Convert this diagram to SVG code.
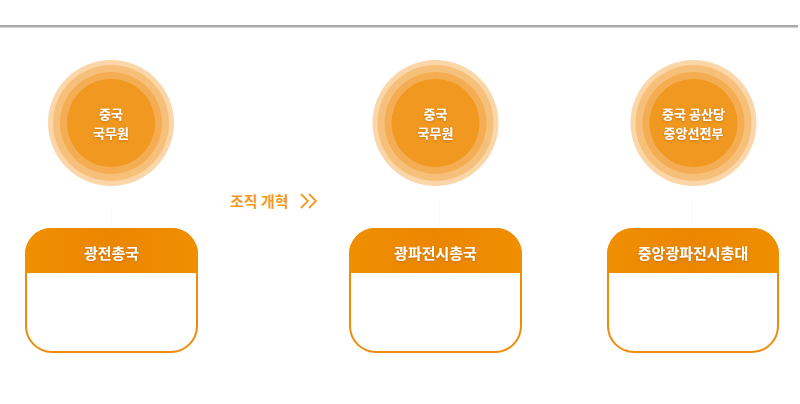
<svg xmlns="http://www.w3.org/2000/svg" width="800" height="404" viewBox="0 0 800 404">
<defs>
<style>
.r1{fill:#fad6a8}.r2{fill:#f7c07a}.r3{fill:#f4ad52}.r4{fill:#f0981f}
.ct{font-family:"Noto Sans CJK KR","Noto Sans",sans-serif;font-size:13px;font-weight:bold;fill:#fff;text-anchor:middle}
.ht{font-family:"Noto Sans CJK KR","Noto Sans",sans-serif;font-size:15px;font-weight:bold;fill:#fff;text-anchor:middle}
.box{fill:#fff;stroke:#ef8b0c;stroke-width:2}
.hdr{fill:url(#hg)}
.conn{stroke:#f6f6f6;stroke-width:1}
</style>
<linearGradient id="hg" x1="0" y1="0" x2="1" y2="0">
<stop offset="0" stop-color="#f08f00"/><stop offset="0.5" stop-color="#ea8600"/><stop offset="1" stop-color="#f08f00"/>
</linearGradient>
<filter id="ts" x="-20%" y="-40%" width="140%" height="180%">
<feDropShadow dx="0" dy="1" stdDeviation="1" flood-color="#b35e00" flood-opacity="0.6"/>
</filter>
</defs>
<rect width="800" height="404" fill="#fff"/>
<rect x="0" y="25" width="798" height="2.5" fill="#aaaaaa"/>
<g id="connectors">
<line class="conn" x1="111" y1="208" x2="111" y2="229"/>
<line class="conn" x1="439" y1="200" x2="439" y2="229"/>
<line class="conn" x1="692" y1="200" x2="692" y2="229"/>
</g>
<g id="c1">
<circle class="r1" cx="111" cy="123" r="63"/><circle class="r2" cx="111" cy="123" r="58"/><circle class="r3" cx="111" cy="123" r="51"/><circle class="r4" cx="111" cy="123" r="44"/>
<text class="ct" filter="url(#ts)" x="111" y="118.5">중국</text>
<text class="ct" filter="url(#ts)" x="111" y="137.5">국무원</text>
</g>
<g id="c2">
<circle class="r1" cx="435.5" cy="123" r="63"/><circle class="r2" cx="435.5" cy="123" r="58"/><circle class="r3" cx="435.5" cy="123" r="51"/><circle class="r4" cx="435.5" cy="123" r="44"/>
<text class="ct" filter="url(#ts)" x="435.5" y="118.5">중국</text>
<text class="ct" filter="url(#ts)" x="435.5" y="137.5">국무원</text>
</g>
<g id="c3">
<circle class="r1" cx="693.5" cy="123" r="63"/><circle class="r2" cx="693.5" cy="123" r="58"/><circle class="r3" cx="693.5" cy="123" r="51"/><circle class="r4" cx="693.5" cy="123" r="44"/>
<text class="ct" filter="url(#ts)" x="693.5" y="118.5">중국 공산당</text>
<text class="ct" filter="url(#ts)" x="693.5" y="137.5">중앙선전부</text>
</g>
<g id="reform">
<text x="230" y="207" font-family="'Noto Sans CJK KR','Noto Sans',sans-serif" font-size="15" font-weight="bold" fill="#f39a1e">조직 개혁</text>
<path d="M301,194 L308,201 L301,208 M309,194 L316,201 L309,208" fill="none" stroke="#f39a1e" stroke-width="1.8"/>
</g>
<g id="b1">
<rect class="box" x="26" y="229" width="171" height="123" rx="26"/>
<path class="hdr" d="M25,273 V255 A26,26 0 0 1 51,228 H172 A26,26 0 0 1 198,255 V273 Z"/>
<text class="ht" x="111.5" y="259" filter="url(#ts)">광전총국</text>
</g>
<g id="b2">
<rect class="box" x="350" y="229" width="171" height="123" rx="26"/>
<path class="hdr" d="M349,273 V255 A26,26 0 0 1 375,228 H496 A26,26 0 0 1 522,255 V273 Z"/>
<text class="ht" x="435.5" y="259" filter="url(#ts)">광파전시총국</text>
</g>
<g id="b3">
<rect class="box" x="608" y="229" width="170" height="123" rx="26"/>
<path class="hdr" d="M607,273 V255 A26,26 0 0 1 633,228 H753 A26,26 0 0 1 779,255 V273 Z"/>
<text class="ht" x="693" y="259" filter="url(#ts)">중앙광파전시총대</text>
</g>
</svg>
